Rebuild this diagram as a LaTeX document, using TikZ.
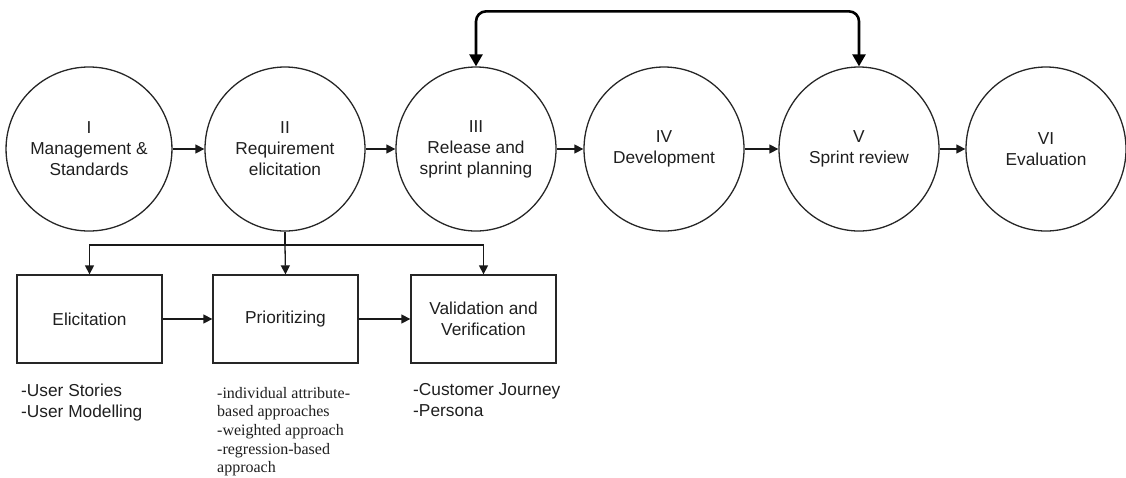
\documentclass[tikz,border=0pt]{standalone}
\usepackage{fontspec}
\setmainfont{Liberation Serif}
\newfontfamily\arialf{Liberation Sans}
\usetikzlibrary{shapes.geometric,arrows.meta}
\begin{document}
\begin{tikzpicture}[x=1pt,y=-1pt,
  phase/.style={ellipse,draw=black!85,line width=1.3pt,minimum width=160pt,minimum height=164pt,inner sep=0pt,align=center,font=\arialf\fontsize{17.3}{21}\selectfont,text=black!88},
  stepbox/.style={rectangle,draw=black!85,line width=1.3pt,minimum width=145pt,minimum height=88pt,inner sep=0pt,align=center,font=\arialf\fontsize{17.3}{21}\selectfont,text=black!88},
  arr/.style={draw=black!90,line width=1.3pt,-{Triangle[length=9pt,width=9pt]}},
  looparr/.style={draw=black,line width=2.6pt,rounded corners=10pt,{Triangle[length=12pt,width=13pt]}-{Triangle[length=12pt,width=13pt]}},
  sanslist/.style={anchor=north west,inner sep=0pt,align=left,font=\arialf\fontsize{17.3}{21}\selectfont,text=black!88},
  seriflist/.style={anchor=north west,inner sep=0pt,align=left,font=\fontsize{16}{18.6}\selectfont,text=black!88}
]
\useasboundingbox (0,0) rectangle (1126,477);
\node[phase] (p1) at (89,149) {I\\Management \&\\Standards};
\node[phase] (p2) at (285,149) {II\\Requirement\\elicitation};
\node[phase] (p3) at (476,149) {III\\Release and\\sprint planning};
\node[phase] (p4) at (664,149) {IV\\Development};
\node[phase] (p5) at (859,149) {V\\Sprint review};
\node[phase] (p6) at (1046,149) {VI\\Evaluation};
\draw[arr] (p1) -- (p2);
\draw[arr] (p2) -- (p3);
\draw[arr] (p3) -- (p4);
\draw[arr] (p4) -- (p5);
\draw[arr] (p5) -- (p6);
\draw[looparr] (p3.north) -- ++(0,-55) -| (p5.north);
\node[stepbox] (b1) at (89.5,319) {Elicitation};
\node[stepbox] (b2) at (285.5,319) {Prioritizing};
\node[stepbox] (b3) at (483.5,319) {Validation and\\Verification};
\coordinate (br) at (285,245);
\draw[arr] (p2.south) -- (br) -| (b1.north);
\draw[arr] (br) -| (b3.north);
\draw[arr] (br) -- (b2.north);
\draw[arr] (b1) -- (b2);
\draw[arr] (b2) -- (b3);
\node[sanslist] (l1) at (21,384) {-User Stories\\-User Modelling};
\node[seriflist] (l2) at (217,387) {-individual attribute-\\based approaches\\-weighted approach\\-regression-based\\approach};
\node[sanslist] (l3) at (413,383) {-Customer Journey\\-Persona};
\end{tikzpicture}
\end{document}
